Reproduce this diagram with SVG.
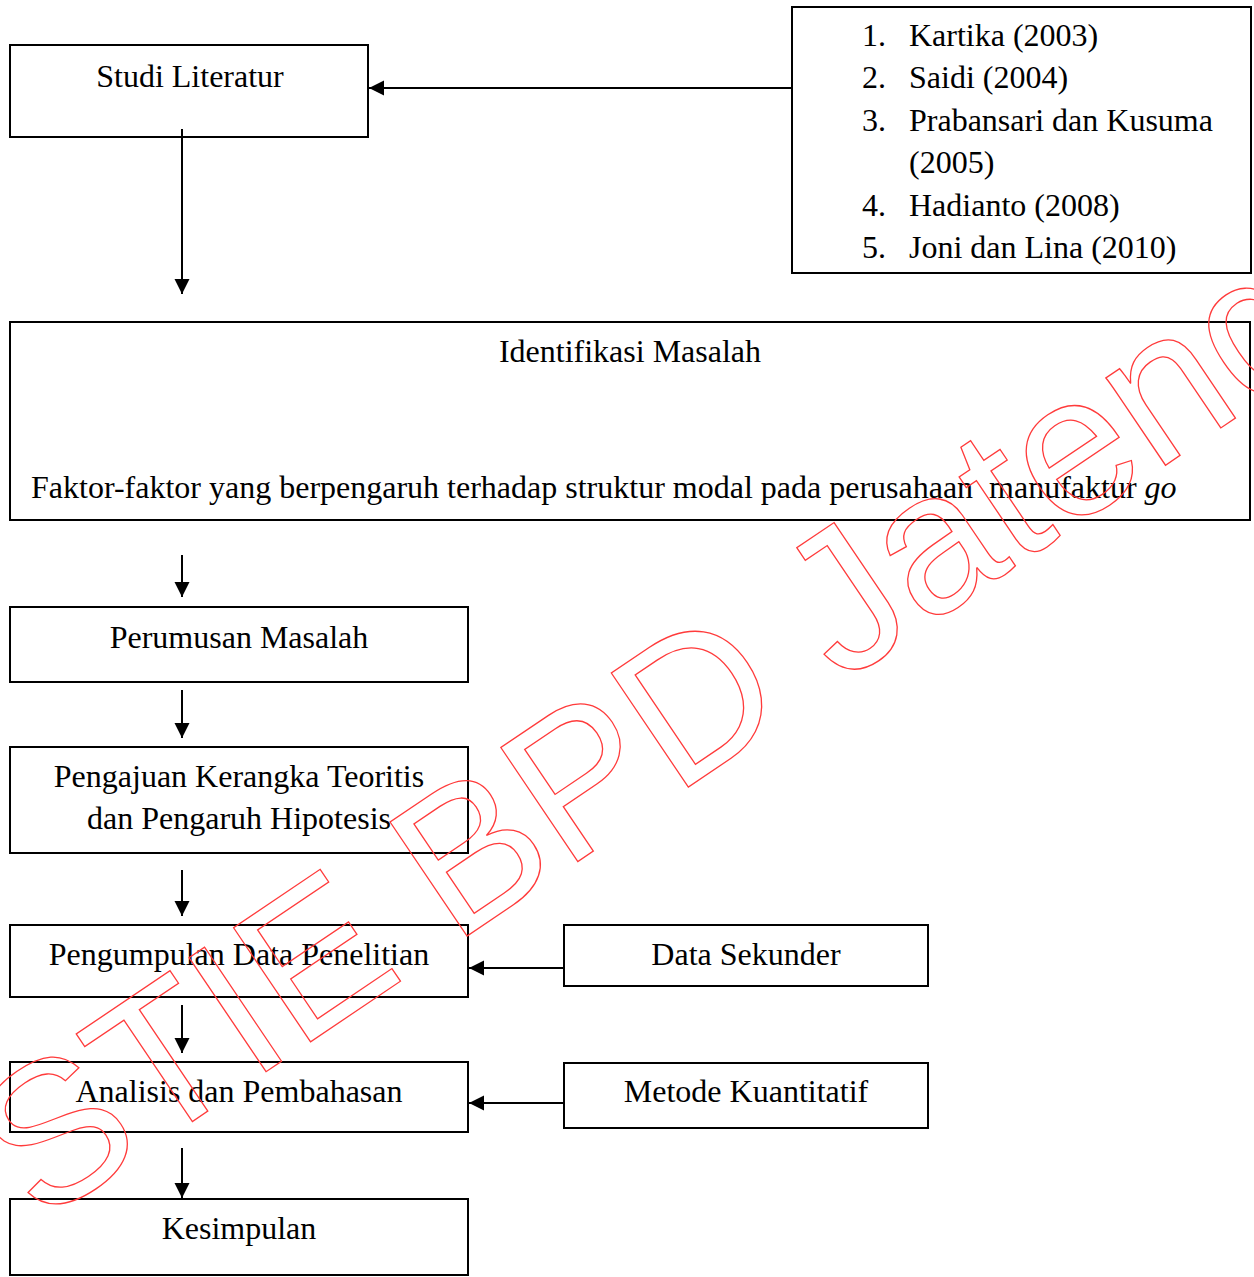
<svg xmlns="http://www.w3.org/2000/svg" width="1254" height="1277" viewBox="0 0 1254 1277">
<style>
.box{fill:#fff;stroke:#000;stroke-width:2}
.t{font-family:"Liberation Serif","Times New Roman",serif;font-size:32px;fill:#000}
.c{text-anchor:middle}
.ln{stroke:#000;stroke-width:2;fill:none;marker-end:url(#ah)}
.wm{font-family:"Liberation Sans",Arial,sans-serif;font-size:200px;fill:none;stroke:#ff3b3b;stroke-width:1.3}
</style>
<defs>
<marker id="ah" markerUnits="userSpaceOnUse" markerWidth="16" markerHeight="16" refX="15" refY="7.5" orient="auto">
<path d="M0,0 L15,7.5 L0,15 Z" fill="#000"/>
</marker>
</defs>
<rect width="1254" height="1277" fill="#fff"/>
<g id="studi-literatur"><rect class="box" x="10" y="45" width="358" height="92"/><text class="t c" x="190" y="87">Studi Literatur</text></g>
<g id="referensi"><rect class="box" x="792" y="7" width="459" height="266"/>
<text class="t"><tspan x="862" y="46">1.</tspan><tspan x="909" y="46">Kartika (2003)</tspan>
<tspan x="862" y="88">2.</tspan><tspan x="909" y="88">Saidi (2004)</tspan>
<tspan x="862" y="131">3.</tspan><tspan x="909" y="131">Prabansari dan Kusuma</tspan>
<tspan x="909" y="173">(2005)</tspan>
<tspan x="862" y="216">4.</tspan><tspan x="909" y="216">Hadianto (2008)</tspan>
<tspan x="862" y="258">5.</tspan><tspan x="909" y="258">Joni dan Lina (2010)</tspan></text></g>
<g id="identifikasi-masalah"><rect class="box" x="10" y="322" width="1240" height="198"/><text class="t c" x="630" y="362">Identifikasi Masalah</text><text class="t" x="31" y="498" xml:space="preserve">Faktor-faktor yang berpengaruh terhadap struktur modal pada perusahaan  manufaktur <tspan font-style="italic">go</tspan></text></g>
<g id="perumusan-masalah"><rect class="box" x="10" y="607" width="458" height="75"/><text class="t c" x="239" y="648">Perumusan Masalah</text></g>
<g id="pengajuan-kerangka"><rect class="box" x="10" y="747" width="458" height="106"/><text class="t c" x="239" y="787">Pengajuan Kerangka Teoritis</text><text class="t c" x="239" y="829">dan Pengaruh Hipotesis</text></g>
<g id="pengumpulan-data"><rect class="box" x="10" y="925" width="458" height="72"/><text class="t c" x="239" y="965">Pengumpulan Data Penelitian</text></g>
<g id="data-sekunder"><rect class="box" x="564" y="925" width="364" height="61"/><text class="t c" x="746" y="965">Data Sekunder</text></g>
<g id="analisis"><rect class="box" x="10" y="1062" width="458" height="70"/><text class="t c" x="239" y="1102">Analisis dan Pembahasan</text></g>
<g id="metode-kuantitatif"><rect class="box" x="564" y="1063" width="364" height="65"/><text class="t c" x="746" y="1102">Metode Kuantitatif</text></g>
<g id="kesimpulan"><rect class="box" x="10" y="1199" width="458" height="76"/><text class="t c" x="239" y="1239">Kesimpulan</text></g>
<g id="connectors">
<path class="ln" d="M792,88 H369"/>
<path class="ln" d="M182,129 V294"/>
<path class="ln" d="M182,555 V597"/>
<path class="ln" d="M182,690 V738"/>
<path class="ln" d="M182,870 V916"/>
<path class="ln" d="M182,1005 V1053"/>
<path class="ln" d="M182,1148 V1198"/>
<path class="ln" d="M564,968 H469"/>
<path class="ln" d="M564,1103 H469"/>
</g>
<g id="watermark"><text class="wm" transform="translate(39,1225) rotate(-34)">STIE BPD Jateng</text></g>
</svg>
